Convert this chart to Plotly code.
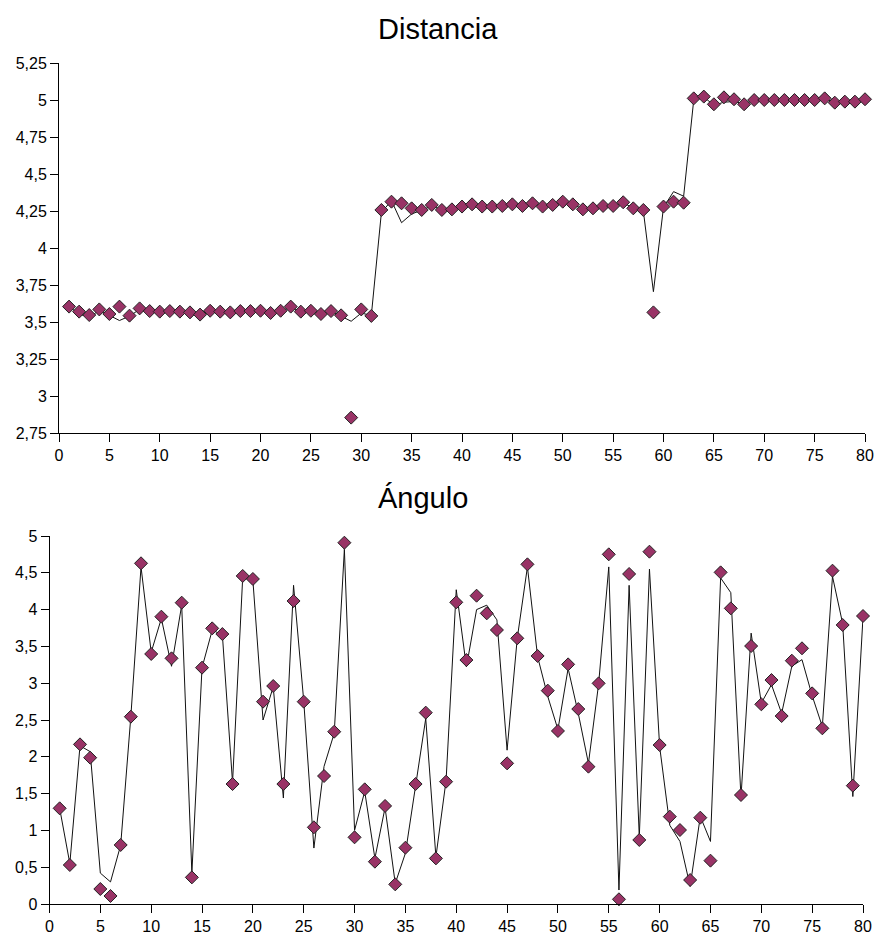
import plotly.graph_objects as go

# Sample index (1..80)
samples = list(range(1, 81))

# Distance: measured values (markers) and filtered estimate (line)
dist_measured = [
    3.604, 3.570, 3.547, 3.585, 3.554, 3.604, 3.543, 3.592, 3.574, 3.570,
    3.574, 3.570, 3.565, 3.550, 3.576, 3.570, 3.565, 3.574, 3.574, 3.576,
    3.561, 3.576, 3.604, 3.570, 3.576, 3.554, 3.574, 3.545, 2.854, 3.585,
    3.541, 4.257, 4.313, 4.302, 4.268, 4.257, 4.291, 4.257, 4.261, 4.280,
    4.295, 4.280, 4.280, 4.284, 4.295, 4.284, 4.302, 4.280, 4.291, 4.313,
    4.295, 4.261, 4.268, 4.284, 4.284, 4.309, 4.268, 4.257, 3.565, 4.280,
    4.313, 4.306, 5.011, 5.023, 4.971, 5.018, 5.005, 4.971, 5.000, 5.000,
    5.000, 5.000, 5.000, 5.000, 5.000, 5.011, 4.982, 4.989, 4.989, 5.005,
]
dist_filtered = [
    3.604, 3.555, 3.530, 3.580, 3.545, 3.510, 3.540, 3.585, 3.572, 3.570,
    3.573, 3.570, 3.566, 3.552, 3.574, 3.570, 3.566, 3.573, 3.574, 3.575,
    3.563, 3.575, 3.598, 3.572, 3.575, 3.556, 3.573, 3.540, 3.505, 3.560,
    3.545, 4.240, 4.320, 4.171, 4.230, 4.255, 4.285, 4.258, 4.262, 4.279,
    4.292, 4.281, 4.280, 4.284, 4.293, 4.285, 4.300, 4.281, 4.290, 4.310,
    4.294, 4.264, 4.268, 4.283, 4.285, 4.305, 4.270, 4.250, 3.705, 4.275,
    4.381, 4.350, 5.000, 5.020, 4.965, 4.985, 4.990, 4.975, 4.998, 5.000,
    5.000, 5.000, 5.000, 5.000, 5.000, 5.008, 4.985, 4.989, 4.989, 5.003,
]

# Angle: measured values (markers) and filtered estimate (line)
angle_measured = [
    1.300, 0.530, 2.169, 1.988, 0.204, 0.109, 0.802, 2.545, 4.629, 3.397,
    3.904, 3.338, 4.094, 0.362, 3.211, 3.745, 3.668, 1.630, 4.457, 4.416,
    2.749, 2.962, 1.630, 4.117, 2.749, 1.042, 1.739, 2.341, 4.909, 0.906,
    1.558, 0.575, 1.332, 0.267, 0.765, 1.630, 2.600, 0.620, 1.662, 4.099,
    3.315, 4.189, 3.949, 3.723, 1.911, 3.610, 4.615, 3.370, 2.899, 2.351,
    3.256, 2.649, 1.866, 2.998, 4.751, 0.064, 4.484, 0.870, 4.787, 2.160,
    1.187, 1.005, 0.326, 1.173, 0.589, 4.506, 4.017, 1.481, 3.505, 2.713,
    3.043, 2.554, 3.306, 3.474, 2.862, 2.387, 4.529, 3.791, 1.608, 3.913,
]
angle_filtered = [
    1.30, 0.55, 2.15, 2.07, 0.42, 0.30, 0.80, 2.55, 4.58, 3.42,
    3.88, 3.23, 4.06, 0.42, 3.21, 3.72, 3.66, 1.65, 4.44, 4.40,
    2.50, 2.95, 1.44, 4.33, 2.76, 0.76, 1.87, 2.32, 4.82, 1.00,
    1.53, 0.62, 1.31, 0.28, 0.69, 1.64, 2.52, 0.64, 1.68, 4.27,
    3.22, 4.00, 4.06, 3.86, 2.09, 3.61, 4.58, 3.36, 2.82, 2.37,
    3.20, 2.59, 1.91, 2.99, 4.58, 0.19, 4.33, 0.91, 4.55, 2.14,
    1.07, 0.85, 0.24, 1.19, 0.85, 4.43, 4.23, 1.45, 3.68, 2.73,
    2.98, 2.59, 3.23, 3.32, 2.83, 2.41, 4.45, 3.81, 1.46, 3.90,
]

# Axis ticks
x_ticks = list(range(0, 81, 5))
dist_ticks = [2.75, 3.0, 3.25, 3.5, 3.75, 4.0, 4.25, 4.5, 4.75, 5.0, 5.25]
angle_ticks = [0, 0.5, 1.0, 1.5, 2.0, 2.5, 3.0, 3.5, 4.0, 4.5, 5.0]


def es_label(v):
    s = f"{v:g}"
    return s.replace(".", ",")


W, H = 877, 939
FONT = "Liberation Sans, Arial, sans-serif"
MARKER_FILL = "#993366"

fig = go.Figure()


def add_series(x, measured, filtered, xa, ya):
    fig.add_trace(go.Scatter(
        x=x, y=filtered, mode="lines", xaxis=xa, yaxis=ya,
        line=dict(color="#111111", width=1), showlegend=False,
        hoverinfo="skip",
    ))
    fig.add_trace(go.Scatter(
        x=x, y=measured, mode="markers", xaxis=xa, yaxis=ya,
        marker=dict(symbol="diamond", size=10, color=MARKER_FILL,
                    line=dict(color="#222222", width=1)),
        cliponaxis=False, showlegend=False,
    ))


add_series(samples, dist_measured, dist_filtered, "x", "y")
add_series(samples, angle_measured, angle_filtered, "x2", "y2")

axis_common = dict(
    showline=True, linecolor="black", linewidth=1,
    ticks="outside", ticklen=8, tickcolor="black", tickwidth=1,
    showgrid=False, zeroline=False, automargin=False,
    tickfont=dict(family=FONT, size=16, color="black"),
    fixedrange=True,
)

fig.update_layout(
    width=W, height=H,
    margin=dict(l=0, r=0, t=0, b=0, autoexpand=False),
    paper_bgcolor="white", plot_bgcolor="white",
    xaxis=dict(domain=[59 / W, 865 / W], range=[0, 80], anchor="y",
               tickvals=x_ticks, ticktext=[str(t) for t in x_ticks],
               **axis_common),
    yaxis=dict(domain=[1 - 433 / H, 1 - 63 / H], range=[2.75, 5.25], anchor="x",
               tickvals=dist_ticks, ticktext=[es_label(t) for t in dist_ticks],
               **axis_common),
    xaxis2=dict(domain=[49.5 / W, 863 / W], range=[0, 80], anchor="y2",
                tickvals=x_ticks, ticktext=[str(t) for t in x_ticks],
                **axis_common),
    yaxis2=dict(domain=[1 - 904 / H, 1 - 536 / H], range=[0, 5], anchor="x2",
                tickvals=angle_ticks, ticktext=[es_label(t) for t in angle_ticks],
                **axis_common),
    annotations=[
        dict(text="Distancia", x=437.5 / W, y=1 - 29 / H, xref="paper", yref="paper",
             xanchor="center", yanchor="middle", showarrow=False,
             font=dict(family=FONT, size=29, color="black")),
        dict(text="Ángulo", x=422.5 / W, y=1 - 498 / H, xref="paper", yref="paper",
             xanchor="center", yanchor="middle", showarrow=False,
             font=dict(family=FONT, size=29, color="black")),
    ],
)

fig.write_html("out.html")
